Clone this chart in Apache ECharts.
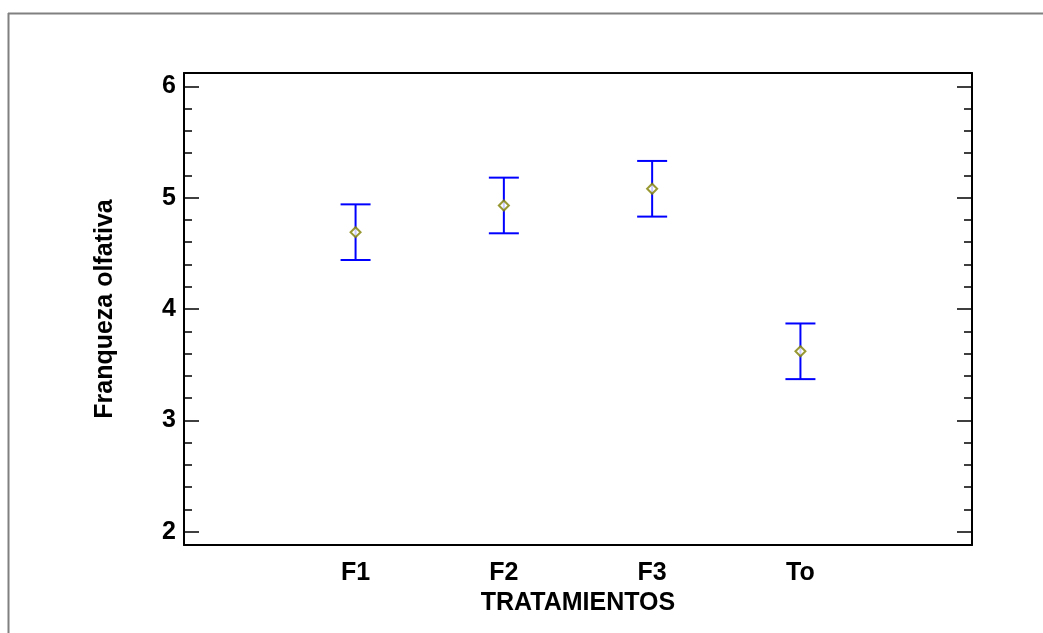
<!DOCTYPE html>
<html>
<head>
<meta charset="utf-8">
<script src="https://cdn.jsdelivr.net/npm/echarts@6/dist/echarts.min.js"></script>
<style>html,body{margin:0;padding:0;background:#fff}#c{width:1043px;height:633px}</style>
</head>
<body>
<div id="c"></div>
<script>
var categories = ['F1', 'F2', 'F3', 'To'];
var means = [4.69, 4.93, 5.08, 3.62];
var lower = [4.44, 4.68, 4.83, 3.37];
var upper = [4.94, 5.18, 5.33, 3.87];
var yTicks = [2, 3, 4, 5, 6];
var xPositions = [1, 2, 3, 4];

var yMinor = [];
for (var i = 0; i < yTicks.length - 1; i++) {
  for (var k = 1; k < 5; k++) yMinor.push(+(yTicks[i] + k * (yTicks[i + 1] - yTicks[i]) / 5).toFixed(4));
}

var font = 'Liberation Sans, Arial, sans-serif';
var fs = 25;
var chart = echarts.init(document.getElementById('c'), null, {renderer: 'canvas'});

var barData = categories.map(function (c, i) { return [xPositions[i], lower[i], upper[i]]; });
var meanData = categories.map(function (c, i) { return [xPositions[i], means[i]]; });

function yAx(pos, ticks, len, showLine, showLabel, extra) {
  var o = {
    type: 'value', position: pos, min: 1.88, max: 6.12,
    axisLine: {show: showLine, onZero: false, lineStyle: {color: '#000', width: 2}},
    axisTick: {show: true, inside: true, length: len, customValues: ticks, lineStyle: {color: '#000', width: 1.5}},
    axisLabel: {show: showLabel, customValues: ticks, margin: 8, color: '#000', fontSize: fs, fontWeight: 'bold', fontFamily: font},
    splitLine: {show: false}
  };
  if (extra) for (var key in extra) o[key] = extra[key];
  return o;
}

chart.setOption({
  animation: false,
  backgroundColor: '#fff',
  grid: {left: 184, right: 71, top: 73, bottom: 88},
  graphic: [
    {type: 'line', shape: {x1: 8, y1: 13.5, x2: 1043, y2: 13.5}, style: {stroke: '#808080', lineWidth: 2}},
    {type: 'line', shape: {x1: 8.5, y1: 13, x2: 8.5, y2: 633}, style: {stroke: '#808080', lineWidth: 2}}
  ],
  xAxis: [
    {
      type: 'value', position: 'bottom', min: -0.157, max: 5.157,
      axisLine: {show: true, onZero: false, lineStyle: {color: '#000', width: 2}},
      axisTick: {show: false},
      axisLabel: {customValues: xPositions, margin: 16, color: '#000', fontSize: fs, fontWeight: 'bold', fontFamily: font,
        formatter: function (v) { return categories[Math.round(v) - 1] || ''; }},
      splitLine: {show: false},
      name: 'TRATAMIENTOS', nameLocation: 'middle', nameGap: 45,
      nameTextStyle: {color: '#000', fontSize: fs, fontWeight: 'bold', fontFamily: font}
    },
    {
      type: 'value', position: 'top', min: -0.157, max: 5.157,
      axisLine: {show: true, onZero: false, lineStyle: {color: '#000', width: 2}},
      axisTick: {show: false}, axisLabel: {show: false}, splitLine: {show: false}
    }
  ],
  yAxis: [
    yAx('left', yTicks, 15, true, true, {
      name: 'Franqueza olfativa', nameLocation: 'middle', nameGap: 66,
      nameTextStyle: {color: '#000', fontSize: fs, fontWeight: 'bold', fontFamily: font}
    }),
    yAx('left', yMinor, 8, false, false),
    yAx('right', yTicks, 15, true, false),
    yAx('right', yMinor, 8, false, false)
  ],
  series: [
    {
      type: 'custom', xAxisIndex: 0, yAxisIndex: 0, data: barData, z: 2,
      renderItem: function (params, api) {
        var x = api.value(0);
        var lo = api.coord([x, api.value(1)]);
        var hi = api.coord([x, api.value(2)]);
        var hw = 15;
        var st = {stroke: '#0000ff', lineWidth: 2};
        return {type: 'group', children: [
          {type: 'line', shape: {x1: lo[0], y1: lo[1], x2: hi[0], y2: hi[1]}, style: st},
          {type: 'line', shape: {x1: lo[0] - hw, y1: lo[1], x2: lo[0] + hw, y2: lo[1]}, style: st},
          {type: 'line', shape: {x1: hi[0] - hw, y1: hi[1], x2: hi[0] + hw, y2: hi[1]}, style: st}
        ]};
      }
    },
    {
      type: 'scatter', xAxisIndex: 0, yAxisIndex: 0, data: meanData, z: 3,
      symbol: 'diamond', symbolSize: [10, 10],
      itemStyle: {color: '#ffffff', borderColor: '#808000', borderWidth: 2}
    }
  ]
});
</script>
</body>
</html>
